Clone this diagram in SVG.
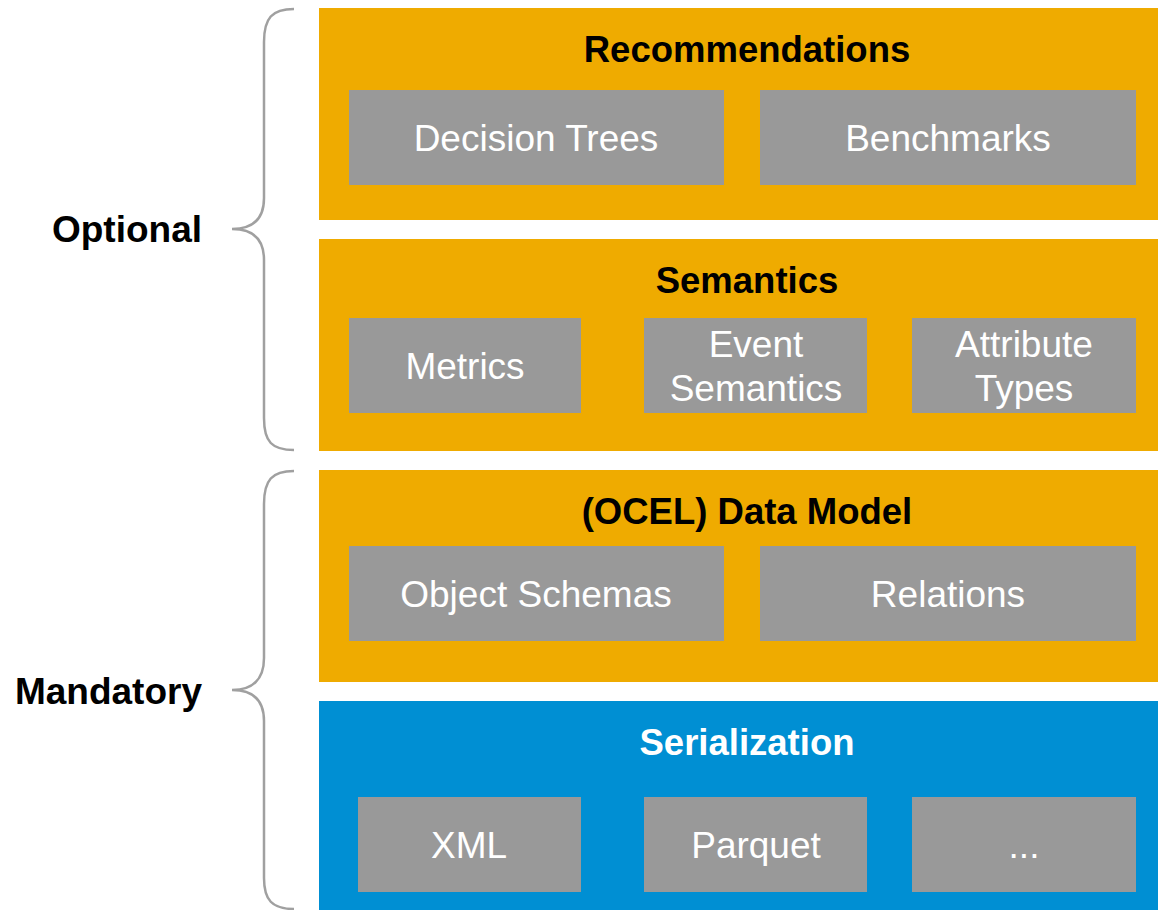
<svg xmlns="http://www.w3.org/2000/svg" width="1158" height="910" viewBox="0 0 1158 910">
<style>
.band{fill:#EFAB00}
.blue{fill:#008FD3}
.box{fill:#999999}
.title{font-family:"Liberation Sans",Arial,sans-serif;font-weight:bold;font-size:36.5px;text-anchor:middle;fill:#000}
.wt{font-family:"Liberation Sans",Arial,sans-serif;font-size:37px;text-anchor:middle;fill:#fff}
.side{font-family:"Liberation Sans",Arial,sans-serif;font-weight:bold;font-size:37px;text-anchor:end;fill:#000}
.brace{fill:none;stroke:#A0A0A0;stroke-width:2.5}
</style>
<rect width="1158" height="910" fill="#fff"/>
<g id="brace-optional">
<path class="brace" d="M294,9 C272,9 264,18 264,42 L264,198 C264,220 252,229 232,229 C252,229 264,238 264,260 L264,418 C264,442 272,450 294,450"/>
<text class="side" x="202" y="242">Optional</text>
</g>
<g id="brace-mandatory">
<path class="brace" d="M294,471 C272,471 264,480 264,504 L264,658 C264,680 252,690 232,690 C252,690 264,699 264,721 L264,878 C264,900 272,909 294,909"/>
<text class="side" x="202" y="704">Mandatory</text>
</g>
<g id="recommendations">
<rect class="band" x="319" y="8" width="839" height="212"/>
<text class="title" x="747" y="62">Recommendations</text>
<g id="decision-trees"><rect class="box" x="349" y="90" width="375" height="95"/><text class="wt" x="536" y="151">Decision Trees</text></g>
<g id="benchmarks"><rect class="box" x="760" y="90" width="376" height="95"/><text class="wt" x="948" y="151">Benchmarks</text></g>
</g>
<g id="semantics">
<rect class="band" x="319" y="239" width="839" height="212"/>
<text class="title" x="747" y="293">Semantics</text>
<g id="metrics"><rect class="box" x="349" y="318" width="232" height="95"/><text class="wt" x="465" y="379">Metrics</text></g>
<g id="event-semantics"><rect class="box" x="644" y="318" width="223" height="95"/><text class="wt" x="756" y="357">Event</text><text class="wt" x="756" y="401">Semantics</text></g>
<g id="attribute-types"><rect class="box" x="912" y="318" width="224" height="95"/><text class="wt" x="1024" y="357">Attribute</text><text class="wt" x="1024" y="401">Types</text></g>
</g>
<g id="data-model">
<rect class="band" x="319" y="470" width="839" height="212"/>
<text class="title" x="747" y="524">(OCEL) Data Model</text>
<g id="object-schemas"><rect class="box" x="349" y="546" width="375" height="95"/><text class="wt" x="536" y="607">Object Schemas</text></g>
<g id="relations"><rect class="box" x="760" y="546" width="376" height="95"/><text class="wt" x="948" y="607">Relations</text></g>
</g>
<g id="serialization">
<rect class="blue" x="319" y="701" width="839" height="209"/>
<text class="title" x="747" y="755" style="fill:#fff">Serialization</text>
<g id="xml"><rect class="box" x="358" y="797" width="223" height="95"/><text class="wt" x="469" y="858">XML</text></g>
<g id="parquet"><rect class="box" x="644" y="797" width="223" height="95"/><text class="wt" x="756" y="858">Parquet</text></g>
<g id="more"><rect class="box" x="912" y="797" width="224" height="95"/><text class="wt" x="1024" y="858">...</text></g>
</g>
</svg>
